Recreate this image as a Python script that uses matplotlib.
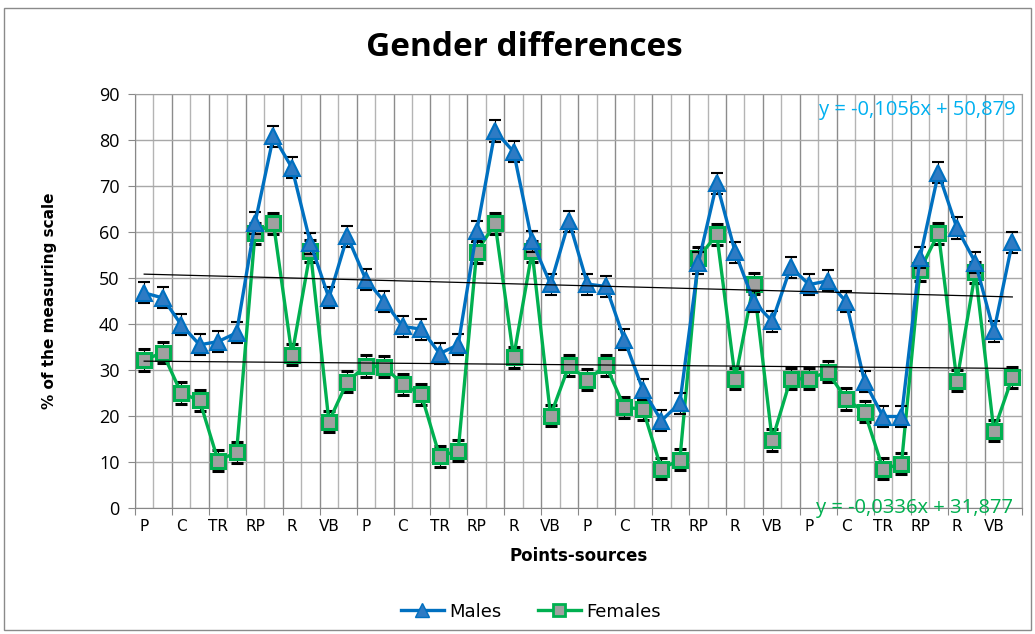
import numpy as np
import matplotlib.pyplot as plt
import matplotlib.patches as patches
from matplotlib.lines import Line2D

# values (48 measuring points)
males = [46.7, 45.6, 39.8, 35.4, 36.1, 38.0, 61.9, 80.8, 73.9, 57.5, 45.6, 59.0,
         49.6, 44.8, 39.4, 38.8, 33.5, 35.4, 60.1, 81.9, 77.4, 57.9, 48.6, 62.3,
         48.6, 48.1, 36.5, 25.6, 18.9, 22.7, 53.2, 70.5, 55.5, 44.8, 40.5, 52.3,
         48.5, 49.3, 44.8, 27.4, 19.8, 19.8, 54.3, 72.8, 60.8, 53.3, 38.3, 57.7]
females = [32.1, 33.7, 24.9, 23.3, 10.2, 12.0, 59.7, 61.8, 33.2, 55.8, 18.7, 27.4,
           30.8, 30.6, 26.8, 24.6, 11.1, 12.4, 55.6, 61.8, 32.7, 55.7, 20.0, 30.9,
           27.8, 30.9, 21.8, 21.4, 8.4, 10.4, 54.3, 59.4, 28.0, 48.7, 14.7, 28.0,
           28.0, 29.5, 23.6, 20.8, 8.4, 9.5, 51.6, 59.7, 27.6, 51.2, 16.7, 28.3]
males_err = [2.3] * 48
females_err = [2.3] * 48
tick_labels = ["P", "C", "TR", "RP", "R", "VB"] * 4

# linear trend lines as given on the chart
males_trend = (-0.1056, 50.879)
females_trend = (-0.0336, 31.877)

blue = "#0070C0"
green = "#00B050"

x = np.arange(1, len(males) + 1)

fig = plt.figure(figsize=(10.35, 6.34), dpi=100)
ax = fig.add_axes([0.1304, 0.1995, 0.8566, 0.6525])

ax.errorbar(x, males, yerr=males_err, color=blue, lw=2.4, marker="^", ms=11.5,
            mfc="#2E7BC4", mec=blue, mew=1.5, ecolor="black", elinewidth=0.8,
            capsize=4, capthick=0.8, zorder=4)
ax.errorbar(x, females, yerr=females_err, color=green, lw=2.4, marker="s", ms=9.5,
            mfc="#A0A0A0", mec=green, mew=2.2, ecolor="black", elinewidth=0.8,
            capsize=4, capthick=0.8, zorder=3)

xt = np.array([x[0], x[-1]])
ax.plot(xt, males_trend[0] * xt + males_trend[1], color="black", lw=0.9, zorder=5)
ax.plot(xt, females_trend[0] * xt + females_trend[1], color="black", lw=0.9, zorder=5)

ax.text(0.993, 0.985, "y = -0,1056x + 50,879", transform=ax.transAxes,
        ha="right", va="top", color="#00B0F0", fontsize=14.5, family="Open Sans")
ax.text(0.99, 0.0, "y = -0,0336x + 31,877", transform=ax.transAxes,
        ha="right", va="center", color=green, fontsize=14.5, family="Open Sans")

ax.set_xlim(0.5, len(males) + 0.5)
ax.set_ylim(0, 90)
ax.set_yticks(np.arange(0, 91, 10))
ax.set_xticks(np.arange(0.5, len(males) + 1, 2))
ax.set_xticks(np.arange(1.5, len(males), 2), minor=True)
ax.set_xticklabels([])
ax.tick_params(axis="x", which="major", length=5, color="#888888")
ax.tick_params(axis="x", which="minor", length=0)
ax.tick_params(axis="y", length=5, color="#888888", labelsize=13, pad=6)
ax.grid(axis="x", which="major", color="#8c8c8c", lw=1)
ax.grid(axis="x", which="minor", color="#b4b4b4", lw=1)
ax.grid(axis="y", color="#a8a8a8", lw=1)
ax.set_axisbelow(True)
for s in ax.spines.values():
    s.set_color("#a0a0a0")
ax.spines["left"].set_color("#888888")
ax.spines["bottom"].set_color("#888888")

sec = ax.secondary_xaxis("bottom")
sec.set_xticks(x[::2])
sec.set_xticklabels(tick_labels)
sec.tick_params(length=0, labelsize=11, pad=8)
sec.spines["bottom"].set_visible(False)

for lab in ax.get_yticklabels():
    lab.set_family("Open Sans")

ax.set_xlabel("Points-sources", fontsize=12, fontweight="bold", labelpad=20)
ax.set_ylabel("% of the measuring scale", fontsize=11, fontweight="bold", labelpad=30)

fig.text(0.507, 0.925, "Gender differences", ha="center", va="center",
         fontsize=24, fontweight="bold", family="Open Sans")

handles = [
    Line2D([], [], color=blue, lw=2.4, marker="^", ms=10, mfc="#2E7BC4", mec=blue),
    Line2D([], [], color=green, lw=2.4, marker="s", ms=9, mfc="#A0A0A0", mec=green, mew=2),
]
fig.legend(handles, ["Males", "Females"], loc="center", bbox_to_anchor=(0.513, 0.035),
           ncol=2, frameon=False, fontsize=13, handlelength=2.4, handletextpad=0.3,
           columnspacing=2.0)

fig.add_artist(patches.Rectangle((0.004, 0.006), 0.992, 0.982, transform=fig.transFigure,
                                 fill=False, edgecolor="#8a8a8a", lw=1))

fig.savefig("out.png", dpi=100)
